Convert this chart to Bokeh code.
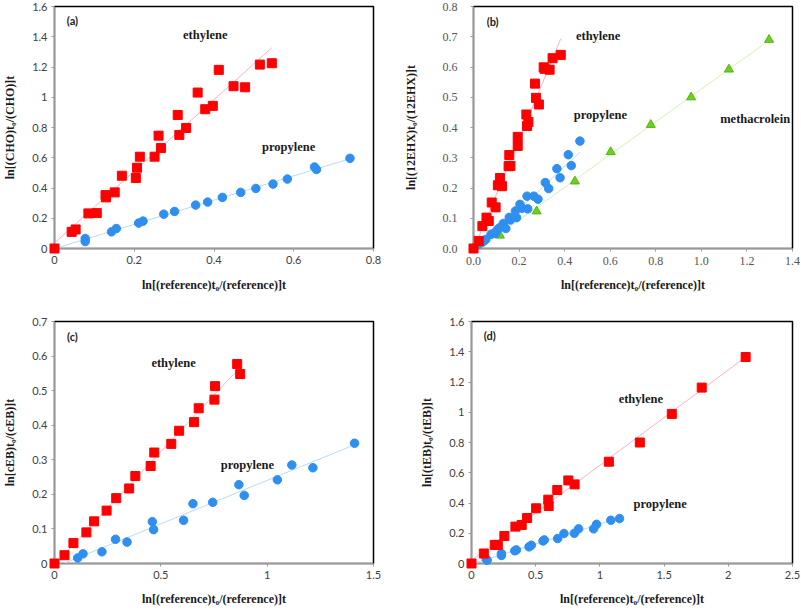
import numpy as np
from bokeh.plotting import figure
from bokeh.layouts import column, row
from bokeh.models import Range1d, FixedTicker, Label
from bokeh.embed import file_html
from bokeh.resources import INLINE

# ---------------- data ----------------
# panel (a)
a_eth_x = [0, 0.043, 0.053, 0.085, 0.106, 0.128, 0.129, 0.151, 0.169, 0.204, 0.207, 0.214, 0.251,
           0.261, 0.267, 0.309, 0.313, 0.330, 0.359, 0.378, 0.397, 0.412, 0.449, 0.478, 0.515, 0.545]
a_eth_y = [0, 0.110, 0.126, 0.232, 0.234, 0.353, 0.338, 0.371, 0.481, 0.466, 0.534, 0.607, 0.607,
           0.746, 0.664, 0.883, 0.751, 0.797, 1.031, 0.921, 0.943, 1.181, 1.073, 1.066, 1.216, 1.225]
a_pro_x = [0.077, 0.077, 0.143, 0.155, 0.211, 0.222, 0.274, 0.301, 0.354, 0.384, 0.421, 0.467,
           0.505, 0.548, 0.584, 0.652, 0.657, 0.741]
a_pro_y = [0.066, 0.046, 0.110, 0.132, 0.168, 0.181, 0.227, 0.245, 0.287, 0.307, 0.338, 0.371,
           0.397, 0.426, 0.459, 0.539, 0.523, 0.596]

# panel (b)
b_eth_x = [0, 0.023, 0.039, 0.057, 0.067, 0.080, 0.097, 0.107, 0.116, 0.125, 0.154, 0.157, 0.162,
           0.194, 0.194, 0.232, 0.235, 0.241, 0.270, 0.274, 0.287, 0.308, 0.312, 0.334, 0.347, 0.383]
b_eth_y = [0, 0.025, 0.074, 0.102, 0.091, 0.152, 0.136, 0.209, 0.233, 0.206, 0.272, 0.309, 0.273,
           0.369, 0.339, 0.443, 0.405, 0.418, 0.545, 0.498, 0.476, 0.599, 0.594, 0.591, 0.629, 0.640]
b_pro_x = [0.003, 0.022, 0.030, 0.039, 0.047, 0.054, 0.077, 0.091, 0.097, 0.104, 0.113, 0.131,
           0.142, 0.157, 0.162, 0.184, 0.189, 0.204, 0.213, 0.235, 0.238, 0.265, 0.283, 0.315,
           0.330, 0.366, 0.380, 0.416, 0.429, 0.467]
b_pro_y = [0.002, 0.014, 0.018, 0.021, 0.026, 0.030, 0.047, 0.051, 0.050, 0.061, 0.068, 0.083,
           0.066, 0.103, 0.094, 0.124, 0.102, 0.146, 0.133, 0.173, 0.131, 0.173, 0.163, 0.218,
           0.198, 0.264, 0.234, 0.310, 0.274, 0.355]
b_met_x = [0, 0.116, 0.277, 0.445, 0.602, 0.778, 0.955, 1.121, 1.297]
b_met_y = [0, 0.043, 0.123, 0.222, 0.319, 0.409, 0.500, 0.592, 0.690]

# panel (c)
c_eth_x = [0, 0.047, 0.089, 0.150, 0.186, 0.245, 0.290, 0.351, 0.380, 0.452, 0.469, 0.549, 0.586,
           0.656, 0.678, 0.752, 0.755, 0.859, 0.873]
c_eth_y = [0, 0.024, 0.059, 0.090, 0.122, 0.153, 0.189, 0.217, 0.253, 0.282, 0.321, 0.346, 0.384,
           0.409, 0.449, 0.474, 0.513, 0.577, 0.548]
c_pro_x = [0.109, 0.134, 0.223, 0.287, 0.341, 0.460, 0.466, 0.607, 0.651, 0.744, 0.867, 0.892,
           1.048, 1.116, 1.215, 1.411]
c_pro_y = [0.016, 0.028, 0.034, 0.070, 0.062, 0.121, 0.098, 0.125, 0.173, 0.177, 0.228, 0.197,
           0.242, 0.285, 0.277, 0.348]

# panel (d)
d_eth_x = [0, 0.096, 0.181, 0.205, 0.256, 0.342, 0.391, 0.433, 0.503, 0.598, 0.601, 0.668, 0.754,
           0.803, 1.070, 1.311, 1.560, 1.793, 2.135]
d_eth_y = [0, 0.066, 0.123, 0.123, 0.182, 0.244, 0.255, 0.301, 0.365, 0.422, 0.380, 0.486, 0.549,
           0.523, 0.673, 0.800, 0.989, 1.163, 1.365]
d_pro_x = [0.115, 0.122, 0.233, 0.233, 0.337, 0.350, 0.448, 0.466, 0.557, 0.567, 0.671, 0.720,
           0.801, 0.834, 0.951, 0.974, 1.085, 1.153]
d_pro_y = [0.030, 0.022, 0.066, 0.053, 0.084, 0.090, 0.110, 0.121, 0.149, 0.156, 0.165, 0.198,
           0.200, 0.229, 0.229, 0.259, 0.286, 0.297]

# ticks
a_xticks = [0, 0.2, 0.4, 0.6, 0.8]
a_xlabels = ["0", "0.2", "0.4", "0.6", "0.8"]
a_yticks = [0, 0.2, 0.4, 0.6, 0.8, 1.0, 1.2, 1.4, 1.6]
a_ylabels = ["0", "0.2", "0.4", "0.6", "0.8", "1", "1.2", "1.4", "1.6"]
b_xticks = [0, 0.2, 0.4, 0.6, 0.8, 1.0, 1.2, 1.4]
b_xlabels = ["0.0", "0.2", "0.4", "0.6", "0.8", "1.0", "1.2", "1.4"]
b_yticks = [0, 0.1, 0.2, 0.3, 0.4, 0.5, 0.6, 0.7, 0.8]
b_ylabels = ["0.0", "0.1", "0.2", "0.3", "0.4", "0.5", "0.6", "0.7", "0.8"]
c_xticks = [0, 0.5, 1.0, 1.5]
c_xlabels = ["0", "0.5", "1", "1.5"]
c_yticks = [0, 0.1, 0.2, 0.3, 0.4, 0.5, 0.6, 0.7]
c_ylabels = ["0", "0.1", "0.2", "0.3", "0.4", "0.5", "0.6", "0.7"]
d_xticks = [0, 0.5, 1.0, 1.5, 2.0, 2.5]
d_xlabels = ["0", "0.5", "1", "1.5", "2", "2.5"]
d_yticks = [0, 0.2, 0.4, 0.6, 0.8, 1.0, 1.2, 1.4, 1.6]
d_ylabels = ["0", "0.2", "0.4", "0.6", "0.8", "1", "1.2", "1.4", "1.6"]

x_title = "ln[(reference)t\u2080/(reference)]t"
a_ytitle = "ln[(CHO)t\u2080/(CHO)]t"
b_ytitle = "ln[(12EHX)t\u2080/(12EHX)]t"
c_ytitle = "ln[cEB)t\u2080/(cEB)]t"
d_ytitle = "ln[(tEB)t\u2080/(tEB)]t"

RED = "#ff0000"
BLUE = "#2f8ff0"
GREEN = "#6ad21e"
GREEN_EDGE = "#52b60a"
RED_T = "#f9b3c6"
BLUE_T = "#b5dcf4"
GREEN_T = "#d3f3b2"

SERIF = "Liberation Serif"
SANS = "Lato"


def make_fig(xr, yr, xt, xl, yt, yl, ytitle, w, h, bl, br, bt, bb,
             tick_font=SANS, tick_size="11px", tick_color="#404040",
             x_std=4, y_std=4, x_lstd=11, y_lstd=12):
    p = figure(width=w, height=h, x_range=Range1d(*xr), y_range=Range1d(*yr),
               output_backend="svg", toolbar_location=None,
               min_border_left=bl, min_border_right=br, min_border_top=bt, min_border_bottom=bb)
    p.xgrid.visible = False
    p.ygrid.visible = False
    p.outline_line_color = "black"
    p.outline_line_width = 1.5
    p.background_fill_color = "white"
    p.border_fill_color = "white"
    p.xaxis.ticker = FixedTicker(ticks=xt)
    p.yaxis.ticker = FixedTicker(ticks=yt)
    p.xaxis.major_label_overrides = {t: l for t, l in zip(xt, xl)}
    p.yaxis.major_label_overrides = {t: l for t, l in zip(yt, yl)}
    for ax in (p.xaxis[0], p.yaxis[0]):
        ax.axis_line_color = "#999999"
        ax.major_tick_line_color = "#999999"
        ax.major_tick_out = 3
        ax.major_tick_in = 0
        ax.minor_tick_line_color = None
        ax.major_label_text_font = tick_font
        ax.major_label_text_font_size = tick_size
        ax.major_label_text_color = tick_color
        ax.axis_label_text_font = SERIF
        ax.axis_label_text_font_style = "bold"
        ax.axis_label_text_font_size = "12px"
        ax.axis_label_text_color = "#1a1a1a"
    p.xaxis.major_label_standoff = x_std
    p.yaxis.major_label_standoff = y_std
    p.xaxis.axis_label = x_title
    p.yaxis.axis_label = ytitle
    p.xaxis.axis_label_standoff = x_lstd
    p.yaxis.axis_label_standoff = y_lstd
    return p


def trend(p, x, y, color):
    k, b0 = np.polyfit(np.array(x), np.array(y), 1)
    xs = np.array([0.0, max(x)])
    p.line(xs, k * xs + b0, line_color=color, line_width=1)


def label(p, x, y, text, size="12.5px", font=SERIF):
    p.add_layout(Label(x=x, y=y, text=text, text_font=font, text_font_style="bold",
                       text_font_size=size, text_color="#1a1a1a",
                       text_align="center", text_baseline="middle"))


def squares(p, x, y):
    p.scatter(x, y, marker="square", size=9, fill_color=RED, line_color=RED, level="overlay")


def circles(p, x, y):
    p.scatter(x, y, marker="circle", size=8.5, fill_color=BLUE, line_color=BLUE, level="overlay")


# (a)
pa = make_fig((0, 0.8), (0, 1.6), a_xticks, a_xlabels, a_yticks, a_ylabels, a_ytitle,
              400, 305, 52, 27, 6, 57)
trend(pa, a_eth_x, a_eth_y, RED_T)
trend(pa, a_pro_x, a_pro_y, BLUE_T)
circles(pa, a_pro_x, a_pro_y)
squares(pa, a_eth_x, a_eth_y)
label(pa, 0.378, 1.41, "ethylene")
label(pa, 0.587, 0.673, "propylene")
label(pa, 0.045, 1.508, "(a)", "11px", SANS)

# (b)
pb = make_fig((0, 1.4), (0, 0.8), b_xticks, b_xlabels, b_yticks, b_ylabels, b_ytitle,
              400, 305, 71, 8, 6, 57, tick_font=SERIF, tick_size="12px", tick_color="#555555",
              x_std=5, y_std=13, x_lstd=10, y_lstd=22)
trend(pb, b_eth_x, b_eth_y, RED_T)
trend(pb, b_pro_x, b_pro_y, BLUE_T)
trend(pb, b_met_x, b_met_y, GREEN_T)
pb.scatter(b_met_x, b_met_y, marker="triangle", size=9, fill_color=GREEN, line_color=GREEN_EDGE,
           level="overlay")
circles(pb, b_pro_x, b_pro_y)
squares(pb, b_eth_x, b_eth_y)
label(pb, 0.547, 0.701, "ethylene")
label(pb, 0.557, 0.44, "propylene")
label(pb, 1.236, 0.427, "methacrolein")
label(pb, 0.084, 0.752, "(b)", "11px", SANS)

# (c)
pc = make_fig((0, 1.5), (0, 0.7), c_xticks, c_xlabels, c_yticks, c_ylabels, c_ytitle,
              400, 306, 52, 27, 16, 48, x_lstd=10)
trend(pc, c_eth_x, c_eth_y, RED_T)
trend(pc, c_pro_x, c_pro_y, BLUE_T)
circles(pc, c_pro_x, c_pro_y)
squares(pc, c_eth_x, c_eth_y)
label(pc, 0.560, 0.581, "ethylene")
label(pc, 0.907, 0.286, "propylene")
label(pc, 0.084, 0.658, "(c)", "11px", SANS)

# (d)
pd_ = make_fig((0, 2.5), (0, 1.6), d_xticks, d_xlabels, d_yticks, d_ylabels, d_ytitle,
               400, 306, 71, 8, 16, 48, x_lstd=10)
trend(pd_, d_eth_x, d_eth_y, RED_T)
trend(pd_, d_pro_x, d_pro_y, BLUE_T)
circles(pd_, d_pro_x, d_pro_y)
squares(pd_, d_eth_x, d_eth_y)
label(pd_, 1.319, 1.088, "ethylene")
label(pd_, 1.469, 0.396, "propylene")
label(pd_, 0.142, 1.508, "(d)", "11px", SANS)

layout = column(row(pa, pb), row(pc, pd_))
open("out.html", "w").write(file_html(layout, INLINE))
